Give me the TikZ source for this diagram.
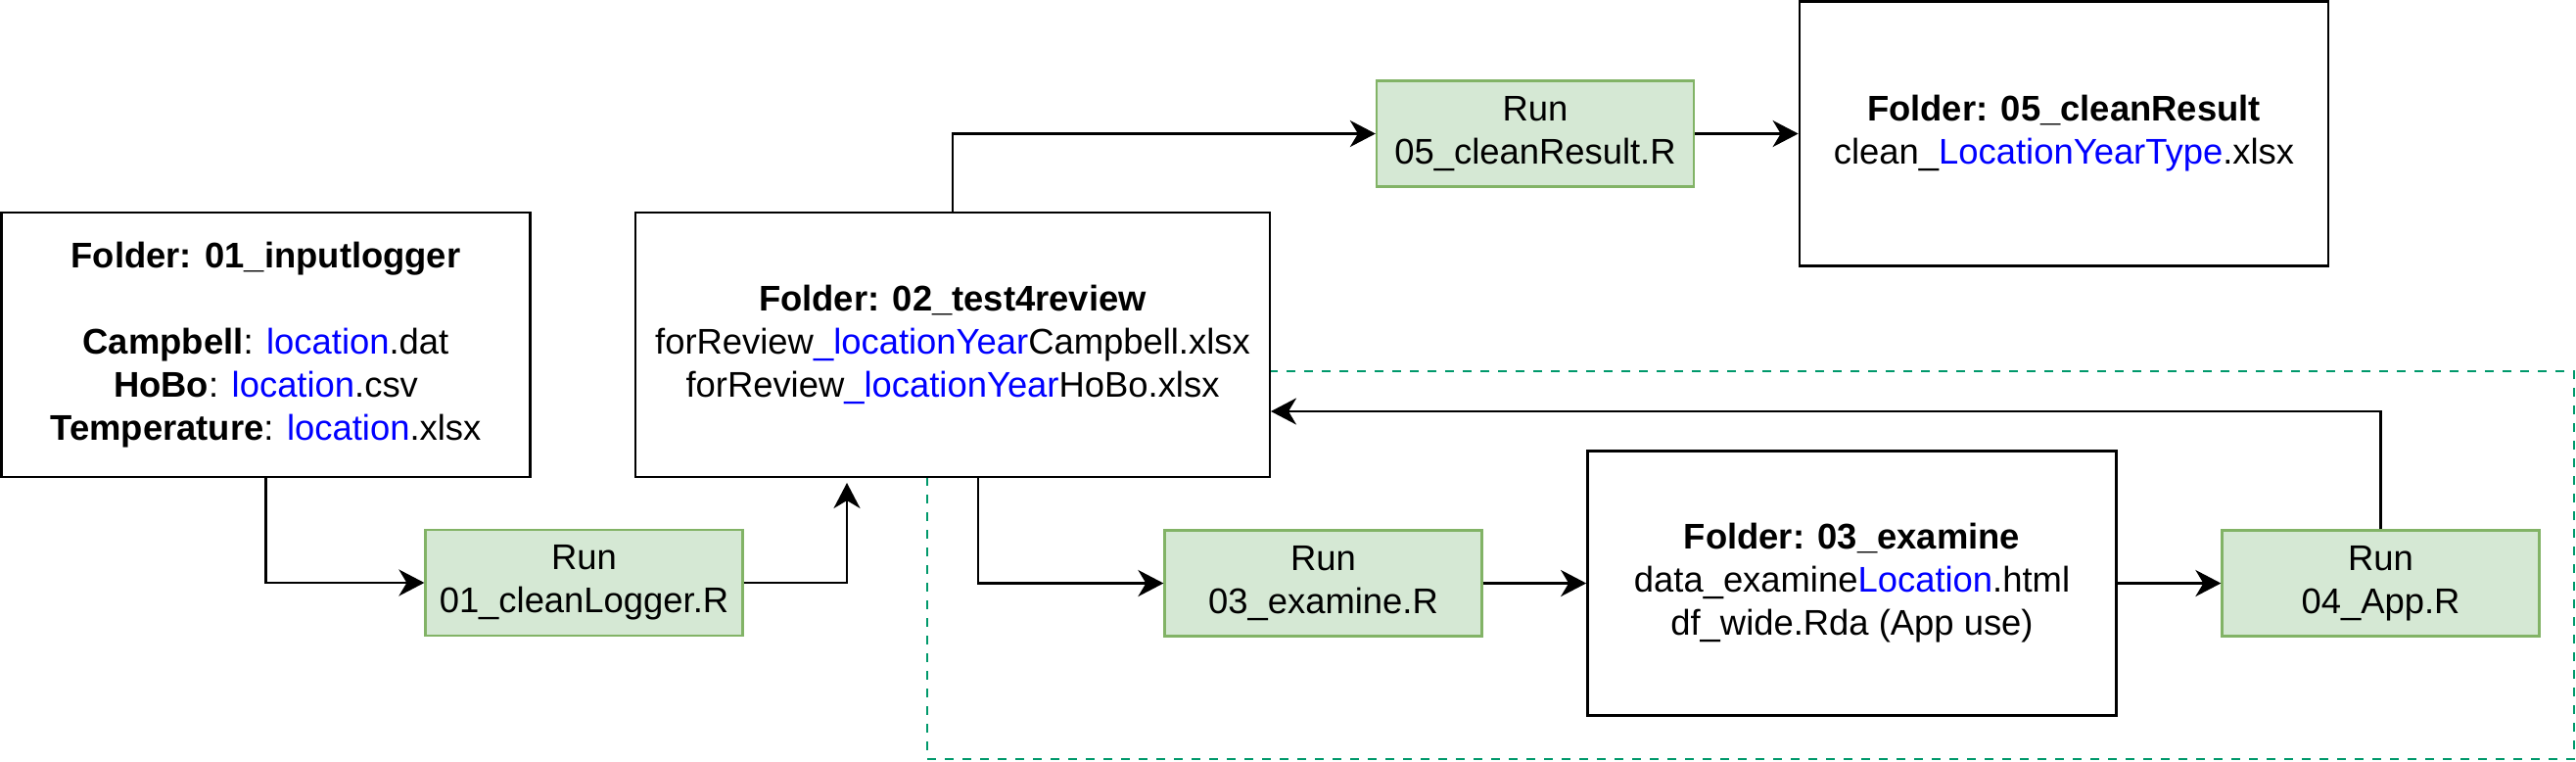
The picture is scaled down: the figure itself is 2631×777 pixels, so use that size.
\documentclass[tikz,border=0pt]{standalone}
\usepackage{fontspec}
\setmainfont{Liberation Sans}
\usetikzlibrary{arrows.meta}
\definecolor{lblue}{HTML}{0000FF}
\definecolor{runfill}{HTML}{D5E8D4}
\definecolor{rundraw}{HTML}{82B366}
\definecolor{dashgreen}{HTML}{00996B}
\newcommand{\blu}[1]{\textcolor{lblue}{#1}}
\tikzset{
  folder/.style={draw=black, fill=white, line width=1.35pt, inner sep=0pt,
    minimum width=270pt, minimum height=135pt, align=center,
    font=\fontsize{18.2}{22}\selectfont},
  runbox/.style={draw=rundraw, fill=runfill, line width=1.1pt, inner sep=0pt,
    minimum width=162pt, minimum height=54pt, align=center,
    font=\fontsize{18.2}{22}\selectfont},
  conn/.style={draw=black, line width=1.35pt,
    -{Stealth[length=13pt, width=13.5pt, inset=4pt]}},
  dashbox/.style={draw=dashgreen, line width=1.25pt, dash pattern=on 4.5pt off 4.5pt}
}
\begin{document}
\begin{tikzpicture}[x=0.5pt, y=-0.5pt]
\useasboundingbox (0,0) rectangle (2631,777);
% dashed region
\draw[dashbox] (947,379) rectangle (2629,775);
% folders
\node[folder] (b1) at (271.5,352) {\textbf{Folder: 01\_inputlogger}\\[22pt]\textbf{Campbell}: \blu{location}.dat\\\textbf{HoBo}: \blu{location}.csv\\\textbf{Temperature}: \blu{location}.xlsx};
\node[folder, minimum width=324pt] (b2) at (973,352) {\textbf{Folder: 02\_test4review}\\forReview\blu{\_locationYear}Campbell.xlsx\\forReview\blu{\_locationYear}HoBo.xlsx};
\node[folder] (b5) at (2108,136.5) {\textbf{Folder: 05\_cleanResult}\\clean\_\blu{LocationYearType}.xlsx};
\node[folder] (b3) at (1891.5,595.5) {\textbf{Folder: 03\_examine}\\data\_examine\blu{Location}.html\\df\_wide.Rda (App use)};
% run boxes
\node[runbox] (r1) at (596.5,595) {Run\\01\_cleanLogger.R};
\node[runbox] (r5) at (1568,136.5) {Run\\05\_cleanResult.R};
\node[runbox] (r3) at (1351.5,595.5) {Run\\03\_examine.R};
\node[runbox] (r4) at (2431.5,595.5) {Run\\04\_App.R};
% connector end points
\coordinate (b2in) at (865,493);
\coordinate (b2out) at (999,488);
\coordinate (b2back) at (1298,420);
% connectors
\draw[conn] (b1.south) |- (r1.west);
\draw[conn] (r1.east) -| (b2in);
\draw[conn] (b2.north) |- (r5.west);
\draw[conn] (r5.east) -- (b5.west);
\draw[conn] (b2out) |- (r3.west);
\draw[conn] (r3.east) -- (b3.west);
\draw[conn] (b3.east) -- (r4.west);
\draw[conn] (r4.north) |- (b2back);
\end{tikzpicture}
\end{document}
